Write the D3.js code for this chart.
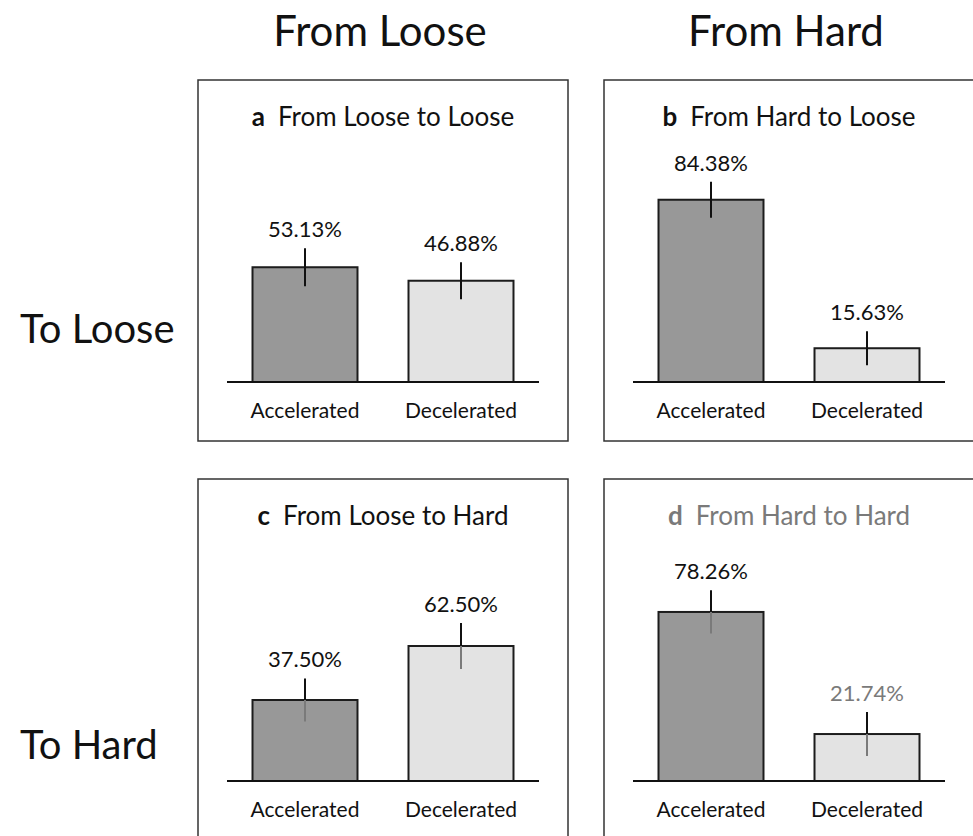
<!DOCTYPE html>
<html>
<head>
<meta charset="utf-8">
<script src="https://cdn.jsdelivr.net/npm/d3@7"></script>
<style>
  html, body { margin: 0; padding: 0; background: #fff; }
  svg { display: block; font-family: Lato, "Open Sans", sans-serif; }
</style>
</head>
<body>
<svg id="chart" width="973" height="836"></svg>
<script>
// Share of accelerated vs decelerated transitions, by origin and destination condition
const panelLetters = ["a", "b", "c", "d"];
const panelTitles = ["From Loose to Loose", "From Hard to Loose", "From Loose to Hard", "From Hard to Hard"];
const categories = ["Accelerated", "Decelerated"];
const acceleratedPct = [53.13, 84.38, 37.50, 78.26];
const deceleratedPct = [46.88, 15.63, 62.50, 21.74];
const acceleratedErr = [8.8, 8.3, 10.0, 10.0];
const deceleratedErr = [8.6, 7.9, 10.6, 10.2];
const columnHeads = ["From Loose", "From Hard"];
const rowHeads = ["To Loose", "To Hard"];

const svg = d3.select("#chart");

const panelW = 370, panelH = 361;
const colX = d3.scaleOrdinal().domain([0, 1]).range([198, 604]);
const rowY = d3.scaleOrdinal().domain([0, 1]).range([80, 479]);

// shared scales inside a panel
const x = d3.scaleBand().domain(categories).range([29, 341])
  .paddingInner(0.327).paddingOuter(0.1635);
const y = d3.scaleLinear().domain([0, 100]).range([302, 86]);

const fills = { Accelerated: "#989898", Decelerated: "#e3e3e3" };

// column and row headings
svg.selectAll("text.colhead").data(columnHeads).join("text")
  .attr("class", "colhead")
  .attr("x", (d, i) => colX(i) + panelW / 2 - 3)
  .attr("y", 46)
  .attr("text-anchor", "middle")
  .attr("font-size", 42)
  .attr("fill", "#111")
  .text(d => d);

svg.selectAll("text.rowhead").data(rowHeads).join("text")
  .attr("class", "rowhead")
  .attr("x", 20)
  .attr("y", (d, i) => i === 0 ? 343 : 759)
  .attr("font-size", 40)
  .attr("fill", "#111")
  .text(d => d);

panelLetters.forEach((letter, i) => {
  const col = i % 2, row = Math.floor(i / 2);
  const g = svg.append("g").attr("transform", `translate(${colX(col)},${rowY(row)})`);
  const muted = letter === "d";
  const innerWhisker = row === 1 ? "#7a7a7a" : "#111";

  g.append("rect")
    .attr("x", 0).attr("y", 0)
    .attr("width", panelW).attr("height", panelH)
    .attr("fill", "none").attr("stroke", "#333").attr("stroke-width", 1.5);

  const title = g.append("text")
    .attr("x", panelW / 2).attr("y", 46)
    .attr("text-anchor", "middle")
    .attr("font-size", 26)
    .attr("fill", muted ? "#7a7a7a" : "#111");
  title.append("tspan").attr("font-weight", "bold").text(letter);
  title.append("tspan").text("\u2002" + panelTitles[i]);

  const rows = [
    { cat: categories[0], v: acceleratedPct[i], e: acceleratedErr[i], labelCol: "#111" },
    { cat: categories[1], v: deceleratedPct[i], e: deceleratedErr[i], labelCol: muted ? "#7a7a7a" : "#111" }
  ];

  g.selectAll("rect.bar").data(rows).join("rect")
    .attr("class", "bar")
    .attr("x", d => x(d.cat))
    .attr("y", d => y(d.v))
    .attr("width", x.bandwidth())
    .attr("height", d => y(0) - y(d.v))
    .attr("fill", d => fills[d.cat])
    .attr("stroke", "#1c1c1c").attr("stroke-width", 2);

  // baseline
  g.append("line")
    .attr("x1", 29).attr("x2", 341)
    .attr("y1", y(0)).attr("y2", y(0))
    .attr("stroke", "#111").attr("stroke-width", 2);

  // error whiskers: upper half above the bar, lower half inside it
  g.selectAll("line.errUp").data(rows).join("line")
    .attr("class", "errUp")
    .attr("x1", d => x(d.cat) + x.bandwidth() / 2)
    .attr("x2", d => x(d.cat) + x.bandwidth() / 2)
    .attr("y1", d => y(d.v + d.e)).attr("y2", d => y(d.v))
    .attr("stroke", "#111").attr("stroke-width", 2);

  g.selectAll("line.errDown").data(rows).join("line")
    .attr("class", "errDown")
    .attr("x1", d => x(d.cat) + x.bandwidth() / 2)
    .attr("x2", d => x(d.cat) + x.bandwidth() / 2)
    .attr("y1", d => y(d.v)).attr("y2", d => y(d.v - d.e))
    .attr("stroke", innerWhisker).attr("stroke-width", 2);

  g.selectAll("text.val").data(rows).join("text")
    .attr("class", "val")
    .attr("x", d => x(d.cat) + x.bandwidth() / 2)
    .attr("y", d => y(d.v + d.e) - 11)
    .attr("text-anchor", "middle")
    .attr("font-size", 22)
    .attr("fill", d => d.labelCol)
    .text(d => d.v.toFixed(2) + "%");

  g.selectAll("text.cat").data(rows).join("text")
    .attr("class", "cat")
    .attr("x", d => x(d.cat) + x.bandwidth() / 2)
    .attr("y", 338)
    .attr("text-anchor", "middle")
    .attr("font-size", 21)
    .attr("fill", "#111")
    .text(d => d.cat);
});
</script>
</body>
</html>
